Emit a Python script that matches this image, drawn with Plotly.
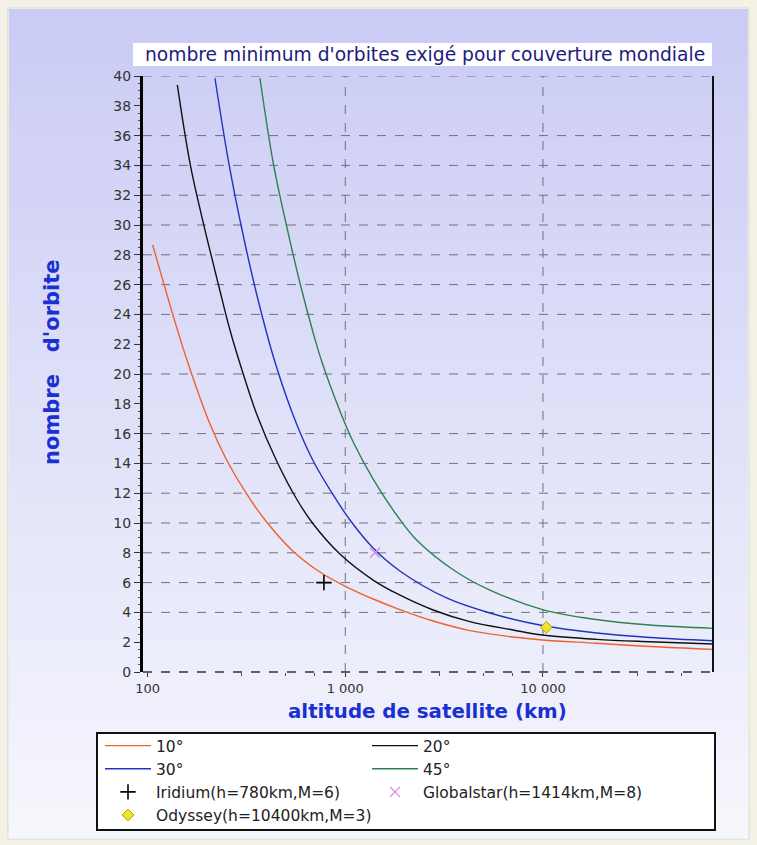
import plotly.graph_objects as go
import numpy as np

# ---- data ----
alt_10 = [106.2, 134.9, 160.7, 206.9, 251.2, 317.1, 400.4, 545.8, 744.5, 995.2, 1384, 1889, 2784, 4267, 7063, 9947, 18650, 34690, 72470]
orb_10 = [28.66, 23.89, 20.67, 16.64, 14.23, 11.95, 10.07, 8.09, 6.71, 5.77, 4.90, 4.19, 3.42, 2.78, 2.35, 2.15, 1.93, 1.71, 1.52]

alt_20 = [141.4, 163.9, 187.8, 227.9, 261.1, 299.2, 356.2, 449.8, 567.5, 688.6, 939.7, 1384, 1818, 2784, 4267, 7063, 9947, 18650, 34690, 72470]
orb_20 = [39.40, 34.16, 30.60, 26.04, 22.95, 20.34, 17.32, 14.16, 11.61, 9.93, 7.92, 6.17, 5.27, 4.16, 3.38, 2.82, 2.48, 2.19, 2.03, 1.88]

alt_30 = [219.3, 256.0, 299.2, 356.2, 440.9, 567.5, 688.6, 869.2, 1056, 1384, 1889, 3254, 5386, 9947, 18650, 34690, 72470]
orb_30 = [39.85, 34.36, 29.80, 25.37, 20.81, 16.64, 14.16, 11.88, 10.20, 8.32, 6.78, 4.97, 3.96, 3.12, 2.62, 2.32, 2.10]

alt_45 = [370.3, 432.3, 505.2, 589.9, 688.6, 759.3, 939.7, 1097, 1384, 1818, 2295, 3655, 5386, 9947, 18650, 34690, 72470]
orb_45 = [39.85, 34.16, 29.93, 26.11, 22.75, 20.87, 17.52, 15.44, 12.95, 10.54, 8.86, 6.71, 5.50, 4.19, 3.52, 3.15, 2.93]

iridium_h, iridium_m = [780], [6]
globalstar_h, globalstar_m = [1414], [8]
odyssey_h, odyssey_m = [10400], [3]

x_tickvals = [100, 1000, 10000]
x_ticktext = ["100", "1 000", "10 000"]
x_grid = [1000, 10000]
y_tickvals = list(range(0, 41, 2))
y_grid = [4, 6, 8, 10, 12, 14, 16, 20, 24, 26, 28, 30, 32, 34, 36, 40]

# ---- layout geometry (pixels) ----
W, H = 757, 845
L, R, T, B = 143, 713, 76, 672
pw, ph = R - L, B - T


def px(x):
    return (x - L) / pw


def py(y):
    return (B - y) / ph


FONT = "DejaVu Sans, Verdana, sans-serif"

fig = go.Figure()

series = [
    ("10°", alt_10, orb_10, "#f0602c", "legend"),
    ("20°", alt_20, orb_20, "#111111", "legend2"),
    ("30°", alt_30, orb_30, "#2233c0", "legend"),
    ("45°", alt_45, orb_45, "#2e8050", "legend2"),
]
for name, xs, ys, col, lg in series:
    fig.add_trace(go.Scatter(x=xs, y=ys, mode="lines", name=name, legend=lg,
                             line=dict(color=col, width=1.4, shape="spline", smoothing=1.0)))

fig.add_trace(go.Scatter(x=iridium_h, y=iridium_m, mode="markers", name="Iridium(h=780km,M=6)",
                         legend="legend",
                         marker=dict(symbol="cross-thin", size=11, color="#000000",
                                     line=dict(color="#000000", width=1.6))))
fig.add_trace(go.Scatter(x=globalstar_h, y=globalstar_m, mode="markers", name="Globalstar(h=1414km,M=8)",
                         legend="legend2",
                         marker=dict(symbol="x-thin", size=10, color="#d58ae0",
                                     line=dict(color="#d58ae0", width=1.4))))
fig.add_trace(go.Scatter(x=odyssey_h, y=odyssey_m, mode="markers", name="Odyssey(h=10400km,M=3)",
                         legend="legend",
                         marker=dict(symbol="diamond", size=9, color="#f2e428",
                                     line=dict(color="#a89c10", width=1))))

shapes = []
# background gradient panel
shapes.append(dict(type="rect", xref="paper", yref="paper", layer="below",
                   x0=px(8), x1=px(749), y0=py(839), y1=py(8),
                   fillcolor="#ffffff", line=dict(color="#d8d6cc", width=1)))
n = 50
top_c = np.array([203, 204, 245])
bot_c = np.array([246, 247, 253])
y_top, y_bot = 9, 838
for i in range(n):
    t = i / (n - 1)
    c = (top_c + (bot_c - top_c) * t).astype(int)
    ya = y_top + (y_bot - y_top) * i / n
    yb = y_top + (y_bot - y_top) * (i + 1) / n + 0.6
    shapes.append(dict(type="rect", xref="paper", yref="paper", layer="below",
                       x0=px(9), x1=px(748), y0=py(yb), y1=py(ya),
                       fillcolor=f"rgb({c[0]},{c[1]},{c[2]})", line=dict(width=0)))
# title box
shapes.append(dict(type="rect", xref="paper", yref="paper", layer="below",
                   x0=px(133), x1=px(712), y0=py(66), y1=py(43),
                   fillcolor="#ffffff", line=dict(width=0)))
# legend box
shapes.append(dict(type="rect", xref="paper", yref="paper", layer="below",
                   x0=px(97), x1=px(715), y0=py(830), y1=py(733),
                   fillcolor="#ffffff", line=dict(color="#111111", width=2)))
# grid lines
for g in y_grid:
    shapes.append(dict(type="line", xref="paper", yref="y", layer="below",
                       x0=0, x1=1, y0=g, y1=g,
                       line=dict(color="#707080", width=1, dash="dash")))
for g in x_grid:
    shapes.append(dict(type="line", xref="x", yref="paper", layer="below",
                       x0=g, x1=g, y0=0, y1=1,
                       line=dict(color="#707080", width=1, dash="dash")))
# bottom axis line (dashed, dark)
shapes.append(dict(type="line", xref="paper", yref="paper", layer="above",
                   x0=0, x1=1, y0=0, y1=0, line=dict(color="#333333", width=1.5, dash="dash")))
# right border
shapes.append(dict(type="line", xref="paper", yref="paper", layer="above",
                   x0=1, x1=1, y0=0, y1=1, line=dict(color="#111111", width=2)))

annotations = [
    dict(text="nombre minimum d'orbites exigé pour couverture mondiale", xref="paper", yref="paper",
         x=px(425), y=py(55), showarrow=False, xanchor="center", yanchor="middle",
         font=dict(family=FONT, size=18.7, color="#1c1c80")),
    dict(text="<b>nombre\u00a0\u00a0\u00a0d'orbite</b>", xref="paper", yref="paper",
         x=px(52), y=py(362), showarrow=False, textangle=-90, xanchor="center", yanchor="middle",
         font=dict(family=FONT, size=21, color="#1a30d0")),
    dict(text="<b>altitude de satellite (km)</b>", xref="paper", yref="paper",
         x=px(427), y=py(712), showarrow=False, xanchor="center", yanchor="middle",
         font=dict(family=FONT, size=19.8, color="#1a30d0")),
]

legend_common = dict(orientation="v", xanchor="left", yanchor="top",
                     xref="paper", yref="paper",
                     bgcolor="rgba(0,0,0,0)", borderwidth=0, itemwidth=46,
                     font=dict(family=FONT, size=15.5, color="#222222"),
                     tracegroupgap=0)

fig.update_layout(
    width=W, height=H,
    margin=dict(l=L, r=W - R, t=T, b=H - B),
    paper_bgcolor="#f4f2e6",
    plot_bgcolor="rgba(0,0,0,0)",
    shapes=shapes,
    annotations=annotations,
    showlegend=True,
    legend=dict(x=px(100), y=py(729), **legend_common),
    legend2=dict(x=px(367), y=py(729), **legend_common),
    xaxis=dict(type="log", range=[1.977, 4.86], tickvals=x_tickvals, ticktext=x_ticktext,
               showgrid=False, showline=False, ticks="outside", ticklen=4, tickcolor="#333333",
               tickfont=dict(family=FONT, size=13, color="#333333"),
               minor=dict(tickvals=[300, 500, 700, 3000, 5000, 7000, 30000, 50000], ticks="outside",
                          ticklen=3, tickcolor="#555555", showgrid=False)),
    yaxis=dict(range=[0, 40], tickvals=y_tickvals, showgrid=False, zeroline=False,
               showline=True, linecolor="#000000", linewidth=3,
               ticks="outside", ticklen=6, tickcolor="#333333",
               tickfont=dict(family=FONT, size=14, color="#333333"),
               minor=dict(dtick=0.5, ticks="outside", ticklen=2, tickcolor="#555555", showgrid=False)),
)

fig.write_html("out.html", config={"displayModeBar": False},
               post_script="document.body.style.margin='0';document.body.style.padding='0';")
